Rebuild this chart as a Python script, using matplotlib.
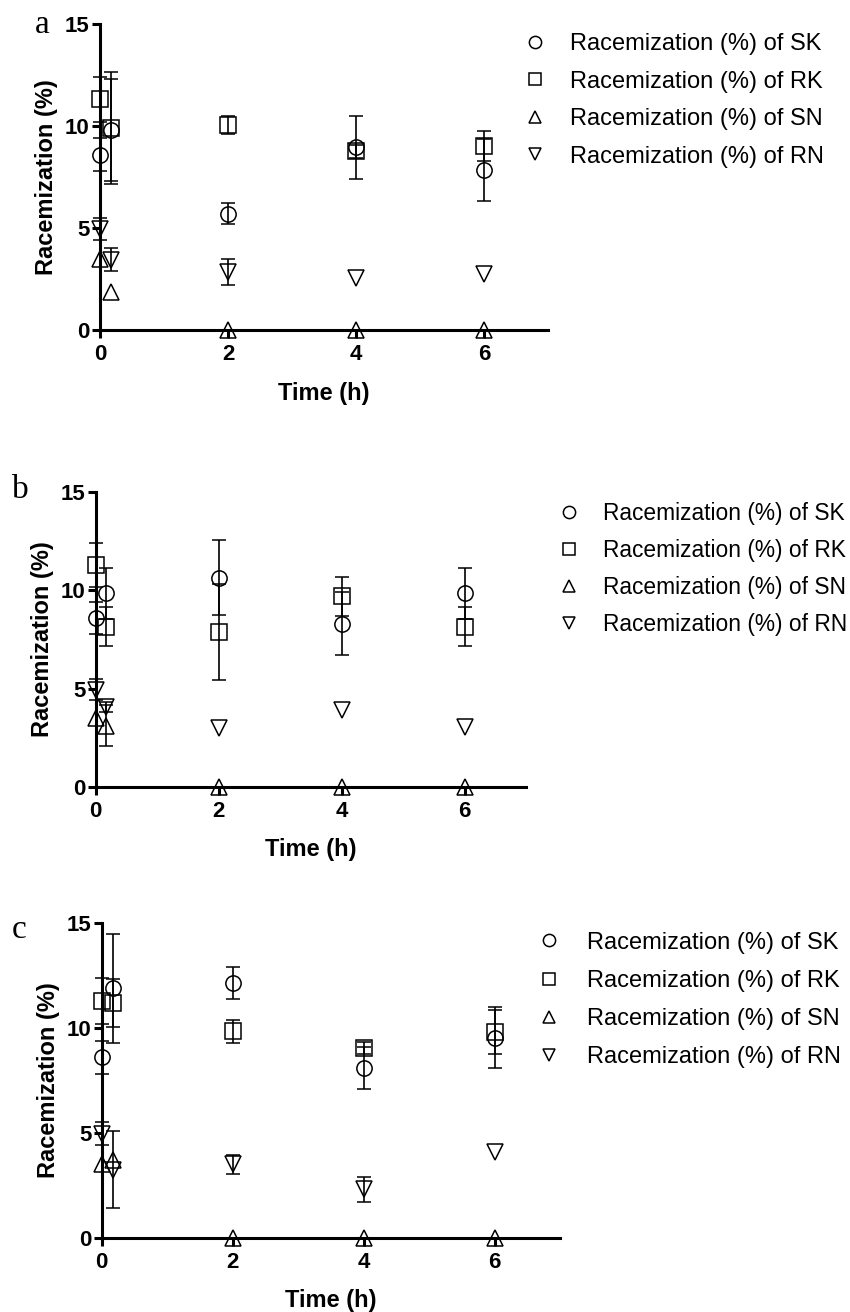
import numpy as np
import matplotlib
matplotlib.use("Agg")
import matplotlib.pyplot as plt

plt.rcParams['font.family'] = ['Liberation Sans', 'DejaVu Sans']

# === Data ================================================================
times = [0, 0.17, 2, 4, 6]
series = ["SK", "RK", "SN", "RN"]
markers = {"SK": "o", "RK": "s", "SN": "^", "RN": "v"}

# panel a
a_SK = [8.6, 9.8, 5.7, 8.95, 7.85]
a_SK_err = [0.8, 2.5, 0.52, 1.53, 1.52]
a_RK = [11.3, 9.9, 10.05, 8.75, 9.0]
a_RK_err = [1.1, 2.75, 0.45, 0.3, 0.74]
a_SN = [3.5, 1.85, 0, 0, 0]
a_SN_err = [0, 0, 0, 0, 0]
a_RN = [4.95, 3.45, 2.85, 2.55, 2.75]
a_RN_err = [0.55, 0.56, 0.65, 0, 0]

# panel b
b_SK = [8.6, 9.85, 10.65, 8.3, 9.85]
b_SK_err = [0.8, 1.3, 1.9, 1.6, 1.3]
b_RK = [11.3, 8.15, 7.9, 9.7, 8.15]
b_RK_err = [1.1, 1.0, 2.45, 1.0, 1.0]
b_SN = [3.5, 3.1, 0, 0, 0]
b_SN_err = [0, 1.05, 0, 0, 0]
b_RN = [4.95, 4.05, 3.0, 3.9, 3.05]
b_RN_err = [0.55, 0.25, 0, 0, 0]

# panel c
c_SK = [8.6, 11.9, 12.15, 8.1, 9.55]
c_SK_err = [0.8, 2.6, 0.75, 1.0, 1.45]
c_RK = [11.3, 11.2, 9.85, 9.05, 9.8]
c_RK_err = [1.1, 1.15, 0.55, 0.3, 1.05]
c_SN = [3.5, 3.7, 0, 0, 0]
c_SN_err = [0, 0, 0, 0, 0]
c_RN = [4.95, 3.25, 3.5, 2.3, 4.1]
c_RN_err = [0.55, 1.85, 0.45, 0.6, 0]

panels = [
    ("a", {"SK": (a_SK, a_SK_err), "RK": (a_RK, a_RK_err),
           "SN": (a_SN, a_SN_err), "RN": (a_RN, a_RN_err)}),
    ("b", {"SK": (b_SK, b_SK_err), "RK": (b_RK, b_RK_err),
           "SN": (b_SN, b_SN_err), "RN": (b_RN, b_RN_err)}),
    ("c", {"SK": (c_SK, c_SK_err), "RK": (c_RK, c_RK_err),
           "SN": (c_SN, c_SN_err), "RN": (c_RN, c_RN_err)}),
]

# === Layout ==============================================================
W, H = 850, 1312
fig = plt.figure(figsize=(W / 100, H / 100), dpi=100)

# axes rects in pixels: x0, x_end(7), y_top(15), y_bottom(0)
rects = [(100, 548, 24, 330), (95.7, 526, 492.3, 786.7), (101.8, 560, 923.3, 1237.7)]
# legend: handle start x, top y, fontsize, handletextpad, labelspacing
legs = [(523, 33, 17, 0.97, 0.66), (557.6, 502, 16.4, 0.99, 0.61), (537.2, 931.5, 17, 1.11, 0.69)]
tags = [(35, 33), (12, 498), (12, 938)]

for (tag, data), (x0, x1, yt, yb), lg, tg in zip(panels, rects, legs, tags):
    ax = fig.add_axes([x0 / W, 1 - yb / H, (x1 - x0) / W, (yb - yt) / H])
    handles, labels = [], []
    for s in series:
        vals, errs = data[s]
        errs = np.where(np.array(errs) > 0, errs, np.nan)
        cont = ax.errorbar(times, vals, yerr=errs, fmt=markers[s], ls='none',
                           ms=11, mfc='none', mec='k', mew=1.1,
                           ecolor='k', elinewidth=1.2, capsize=5, capthick=1.2)
        for art in cont.get_children():
            art.set_clip_on(False)
        handles.append(cont[0])
        labels.append(f"Racemization (%) of {s}")

    ax.set_xlim(0, 7)
    ax.set_ylim(0, 15)
    ax.set_xticks([0, 2, 4, 6])
    ax.set_yticks([0, 5, 10, 15])
    for sp in ['top', 'right']:
        ax.spines[sp].set_visible(False)
    for sp in ['left', 'bottom']:
        ax.spines[sp].set_linewidth(2.2)
    ax.tick_params(width=2.2, length=6, labelsize=16, direction='out')
    ax.tick_params(axis='y', pad=1.5)
    ax.tick_params(axis='x', pad=4)
    for lab in ax.get_xticklabels() + ax.get_yticklabels():
        lab.set_fontweight('bold')
    ax.set_xlabel("Time (h)", fontsize=17, fontweight='bold', labelpad=12)
    ax.set_ylabel("Racemization (%)", fontsize=17, fontweight='bold', labelpad=5)

    hx, ty, fs, htp, lsp = lg
    ax.legend(handles, labels, loc='upper left',
              bbox_to_anchor=(hx / W, 1 - ty / H), bbox_transform=fig.transFigure,
              frameon=False, borderpad=0, borderaxespad=0, handlelength=1.0,
              handletextpad=htp, labelspacing=lsp, markerscale=0.8, fontsize=fs)

    fig.text(tg[0] / W, 1 - tg[1] / H, tag, fontsize=24, va='baseline', ha='left',
             family=['Liberation Serif', 'DejaVu Serif'])

fig.savefig("out.png", dpi=100)
